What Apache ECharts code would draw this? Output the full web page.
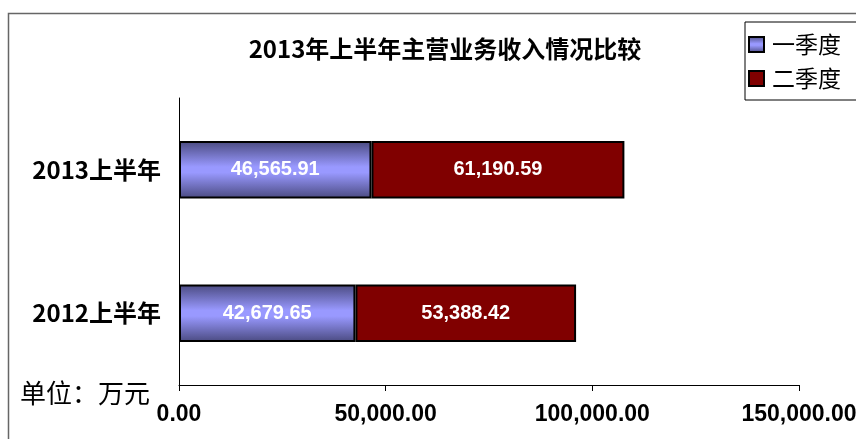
<!DOCTYPE html>
<html>
<head>
<meta charset="utf-8">
<script src="https://cdn.jsdelivr.net/npm/echarts@6/dist/echarts.min.js"></script>
<style>
  html, body { margin: 0; padding: 0; background: #fff; }
  #main { width: 856px; height: 439px; }
</style>
</head>
<body>
<div id="main"></div>
<script>
// data
var categories = ['2012上半年', '2013上半年']
var q1 = [42679.65, 46565.91]   // 一季度
var q2 = [53388.42, 61190.59]   // 二季度
var seriesNames = ['一季度', '二季度']
var xTicks = [0, 50000, 100000, 150000]

var numFont = '"Liberation Sans", Arial, sans-serif'
var cjkFont = '"Noto Sans CJK SC", sans-serif'

function fmt(v) {
  return Number(v).toLocaleString('en-US', { minimumFractionDigits: 2, maximumFractionDigits: 2 })
}

var chart = echarts.init(document.getElementById('main'))

var purple = new echarts.graphic.LinearGradient(0, 0, 0, 1, [
  { offset: 0, color: '#4a4a80' },
  { offset: 0.45, color: '#9999ff' },
  { offset: 0.55, color: '#9999ff' },
  { offset: 1, color: '#4a4a80' }
])

var option = {
  animation: false,
  title: {
    text: '2013年上半年主营业务收入情况比较',
    left: 440,
    textAlign: 'center',
    top: 32,
    textStyle: { fontFamily: cjkFont, fontSize: 24, fontWeight: 'bold', color: '#000' }
  },
  legend: {
    orient: 'vertical',
    left: 745,
    top: 22,
    padding: [11, 25, 10, 3],
    itemGap: 11,
    itemWidth: 15,
    itemHeight: 15,
    icon: 'rect',
    borderColor: '#000',
    borderWidth: 1,
    data: seriesNames,
    textStyle: { fontFamily: cjkFont, fontSize: 23, color: '#000', padding: [0, 0, 0, 3] }
  },
  grid: { left: 179, right: 57, top: 98, bottom: 54, outerBoundsMode: 'none', containLabel: false },
  xAxis: {
    type: 'value',
    min: 0,
    max: 150000,
    interval: 50000,
    axisLine: { show: true, lineStyle: { color: '#000', width: 1 } },
    axisTick: { show: true, length: 6, lineStyle: { color: '#000' } },
    splitLine: { show: false },
    axisLabel: {
      formatter: function (v) { return xTicks.indexOf(v) >= 0 ? fmt(v) : '' },
      fontFamily: numFont, fontSize: 23, fontWeight: 'bold', color: '#000', margin: 18,
      hideOverlap: false
    }
  },
  yAxis: {
    type: 'category',
    data: categories,
    axisLine: { show: true, lineStyle: { color: '#000', width: 1 } },
    axisTick: { show: false },
    axisLabel: { fontFamily: cjkFont, fontSize: 24, fontWeight: 'bold', color: '#000', margin: 18 }
  },
  graphic: [
    {
      type: 'polyline',
      shape: { points: [[8.5, 439], [8.5, 13.5], [856, 13.5]] },
      style: { stroke: '#666', lineWidth: 1.5, fill: null },
      z: -1
    },
    {
      type: 'text',
      left: 20,
      top: 380,
      style: { text: '单位：万元', font: '26px "Noto Sans CJK SC"', fill: '#000' }
    }
  ],
  series: [
    {
      name: seriesNames[0],
      type: 'bar',
      stack: 'total',
      barWidth: '40%',
      data: q1,
      itemStyle: { color: purple, borderColor: '#000', borderWidth: 2 },
      label: {
        show: true, position: 'inside', formatter: function (p) { return fmt(p.value) },
        color: '#fff', fontFamily: numFont, fontSize: 20, fontWeight: 'bold'
      }
    },
    {
      name: seriesNames[1],
      type: 'bar',
      stack: 'total',
      data: q2,
      itemStyle: { color: '#800000', borderColor: '#000', borderWidth: 2 },
      label: {
        show: true, position: 'inside', formatter: function (p) { return fmt(p.value) },
        color: '#fff', fontFamily: numFont, fontSize: 20, fontWeight: 'bold'
      }
    }
  ]
}

chart.setOption(option)
</script>
</body>
</html>
